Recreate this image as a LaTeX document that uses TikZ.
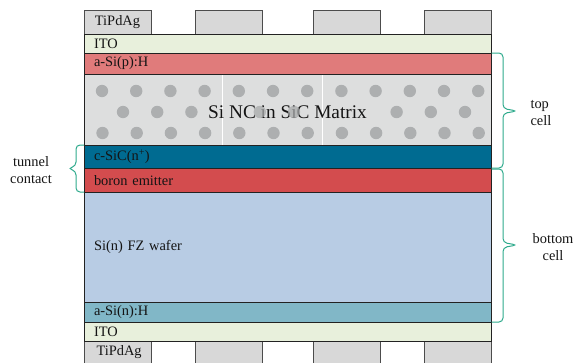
\documentclass[tikz,border=0pt]{standalone}
\usepackage{fontspec}
\setmainfont{Liberation Serif}
\definecolor{itocol}{HTML}{E8F0DC}
\definecolor{psicol}{HTML}{E07B7B}
\definecolor{nccol}{HTML}{DDDEDE}
\definecolor{dotcol}{HTML}{A8AAAB}
\definecolor{sicol}{HTML}{006B91}
\definecolor{boroncol}{HTML}{D34C4E}
\definecolor{wafercol}{HTML}{B8CCE4}
\definecolor{nsicol}{HTML}{81B7C7}
\definecolor{metalcol}{HTML}{D8D8D8}
\definecolor{edgecol}{HTML}{222222}
\definecolor{bracecol}{HTML}{2EAA8C}
\begin{document}
\begin{tikzpicture}[x=1pt,y=-1pt,
  txt/.style={font=\fontsize{14.4}{17}\selectfont, text=black!92},
  layer/.style={txt, draw=edgecol, line width=1pt, minimum width=407pt,
    text width=387pt, inner xsep=10pt, inner ysep=0pt, align=left},
  metal/.style={txt, draw=black!70, line width=0.9pt, fill=metalcol,
    minimum width=67pt, inner sep=0pt},
  bracepath/.style={draw=bracecol, line width=1pt, rounded corners=4pt},
  dot/.style={fill=dotcol, draw=none, opacity=0.9}]
\useasboundingbox (0,0) rectangle (573,362);

% front contacts
\node[metal, minimum height=24pt] (ftop1) at (117.5,22) {TiPdAg};
\node[metal, minimum height=24pt] (ftop2) at (228.5,22) {};
\node[metal, minimum height=24pt] (ftop3) at (346.5,22) {};
\node[metal, minimum height=24pt] (ftop4) at (457.5,22) {};

% rear contacts
\node[metal, minimum height=26pt] (rear1) at (117.5,354) {};
\node[metal, minimum height=26pt] (rear2) at (228.5,354) {};
\node[metal, minimum height=26pt] (rear3) at (346.5,354) {};
\node[metal, minimum height=26pt] (rear4) at (457.5,354) {};
\node[txt, anchor=west] (rearlbl) at (93,352) {TiPdAg};

% layer stack
\node[layer, fill=itocol,   minimum height=19pt]   (itotop) at (287.5,43.5)  {ITO};
\node[layer, fill=psicol,   minimum height=21pt]   (psi)    at (287.5,63.5)  {a-Si(p):H};
\node[layer, fill=nccol,    minimum height=71pt]   (nc)     at (287.5,109.5) {};
\node[layer, fill=sicol,    minimum height=23.5pt] (csic)   at (287.5,156.75){c-SiC(n\textsuperscript{+})};
\node[layer, fill=boroncol, minimum height=23.5pt] (boron)  at (287.5,180.25){boron emitter};
\node[layer, fill=wafercol, minimum height=110pt]  (wafer)  at (287.5,247)   {Si(n) FZ wafer};
\node[layer, fill=nsicol,   minimum height=20pt]   (nsi)    at (287.5,312)   {a-Si(n):H};
\node[layer, fill=itocol,   minimum height=19pt]   (itobot) at (287.5,331.5) {ITO};

% faint seams in the nanocrystal layer
\draw[white, line width=0.8pt] (222,75) -- (222,144.5);
\draw[white, line width=0.8pt] (322,75) -- (322,144.5);

% nanocrystal layer title and dots
\node[font=\fontsize{19.3}{22}\selectfont, text=black!92] (nclbl) at (287.5,112) {Si NC in SiC Matrix};
\foreach \k in {0,...,11} {
  \fill[dot] (102+34.2*\k,91) circle (6.2);
  \fill[dot] (102.5+34.2*\k,133) circle (6.2);
}
\foreach \k in {0,1,2,8,9,10} {
  \fill[dot] (123+34.2*\k,112) circle (6.2);
}
\foreach \k in {4,5} {
  \fill[dot, opacity=0.75] (123+34.2*\k,112) circle (6.2);
}

% brace ends
\coordinate (tcA) at (491.5,53);
\coordinate (tcB) at (491.5,168);
\coordinate (bcA) at (491.5,169);
\coordinate (bcB) at (491.5,322);
\coordinate (tuA) at (84,145);
\coordinate (tuB) at (84,192);

% braces
\draw[bracepath] (tcA) -- ++(11.5,0) -- ++(0,55.5) -- ++(14,2.5) -- ++(-14,2.5) -- ++(0,54.5) -- (tcB);
\draw[bracepath] (bcA) -- ++(11.5,0) -- ++(0,73.5) -- ++(14,2.5) -- ++(-14,2.5) -- ++(0,74.5) -- (bcB);
\draw[bracepath] (tuA) -- ++(-8,0) -- ++(0,21) -- ++(-8,2.5) -- ++(8,2.5) -- ++(0,21) -- (tuB);

% brace labels
\node[txt, align=left, anchor=west] (toplbl) at (527,113.5) {top\\cell};
\node[txt, align=center] (botlbl) at (553,247) {bottom\\cell};
\node[txt, align=center] (tunlbl) at (31,170) {tunnel\\contact};
\end{tikzpicture}
\end{document}
